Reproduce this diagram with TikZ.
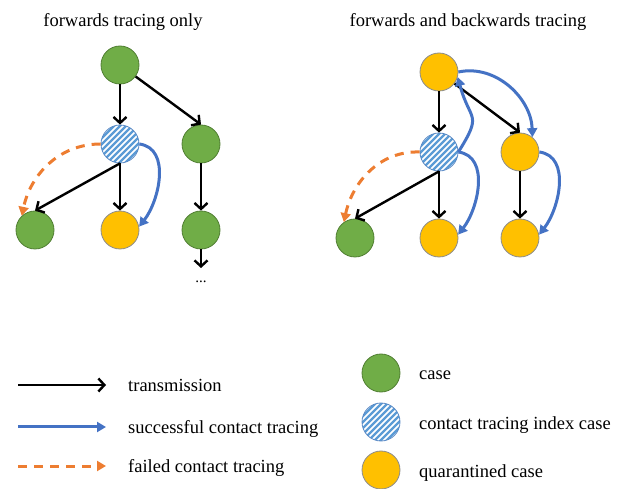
\documentclass[tikz,border=0pt]{standalone}
\usepackage{fontspec}
\setmainfont{Liberation Serif}
\usetikzlibrary{arrows.meta}

\definecolor{casegreen}{HTML}{70AD47}
\definecolor{caseedge}{HTML}{507E32}
\definecolor{quargold}{HTML}{FFC000}
\definecolor{quaredge}{HTML}{8C8C8C}
\definecolor{traceblue}{HTML}{4472C4}
\definecolor{stripeblue}{HTML}{5B9BD5}
\definecolor{indexedge}{HTML}{5A8AC6}
\definecolor{failorange}{HTML}{ED7D31}

\begin{document}
\begin{tikzpicture}[x=1pt,y=1pt,
  font=\fontsize{18.5}{22}\selectfont,
  person/.style={circle, minimum size=38pt, inner sep=0pt, line width=0.8pt},
  case/.style={person, fill=casegreen, draw=caseedge},
  quarantined/.style={person, fill=quargold, draw=quaredge},
  indexcase/.style={person, fill=white, draw=indexedge,
    path picture={
      \foreach \k in {-48,-42,...,48}
        \draw[stripeblue, line width=2.3pt]
          ([xshift=\k pt-30pt, yshift=-30pt]path picture bounding box.center)
          -- ++(60pt,60pt);
    }},
  transmit/.style={black, line width=2.4pt, -{Straight Barb[length=6pt,width=13pt]}},
  traced/.style={traceblue, line width=3pt, -{Triangle[length=9pt,width=10pt]}},
  failed/.style={failorange, line width=3pt, dash pattern=on 9pt off 7pt,
    -{Triangle[length=9pt,width=10pt]}},
  caption/.style={anchor=base west, inner sep=0pt},
]
\useasboundingbox (0,0) rectangle (622,488);

% titles
\node[anchor=base, inner sep=0pt] (t1) at (123,461) {forwards tracing only};
\node[anchor=base, inner sep=0pt] (t2) at (468,461) {forwards and backwards tracing};

% forwards tracing only
\node[case]        (A) at (120,423) {};
\node[indexcase]   (B) at (120,344) {};
\node[case]        (C) at (201,344) {};
\node[case]        (D) at (35,258) {};
\node[quarantined] (E) at (120,258) {};
\node[case]        (F) at (201,258) {};
\coordinate (Fend) at (201,220);
\node[inner sep=0pt, font=\fontsize{15}{18}\selectfont] (dots) at (201,206) {...};

\draw[transmit] (A) -- (B);
\draw[transmit] (A) -- (C.north);
\draw[transmit] (B.south) -- (D.north);
\draw[transmit] (B) -- (E);
\draw[transmit] (C) -- (F);
\draw[transmit] (F) -- (Fend);
\draw[failed] (B.west) to[out=180, in=78] (D.133);
\draw[traced] (B.east) to[out=-8, in=52] (E.10);

% forwards and backwards tracing
\node[quarantined] (A2) at (439,416) {};
\node[indexcase]   (B2) at (439,336) {};
\node[quarantined] (C2) at (520,336) {};
\node[case]        (D2) at (355,250) {};
\node[quarantined] (E2) at (439,250) {};
\node[quarantined] (F2) at (520,250) {};

\draw[transmit] (A2) -- (B2);
\draw[transmit] (A2) -- (C2.north);
\draw[transmit] (B2.south) -- (D2.north);
\draw[transmit] (B2) -- (E2);
\draw[transmit] (C2) -- (F2);
\draw[failed] (B2.west) to[out=178, in=78] (D2.125);
\draw[traced] (B2.east) to[out=-8, in=52] (E2.10);
\draw[traced] (C2.east) to[out=-8, in=52] (F2.10);
\draw[traced] (B2.east) to[out=58, in=-75, looseness=1.6] (A2.-15);
\draw[traced] (A2.east) to[out=12, in=92] (C2.50);

% legend: connectors
\coordinate (l1a) at (18,103);  \coordinate (l1b) at (106,103);
\coordinate (l2a) at (18,61);   \coordinate (l2b) at (106,61);
\coordinate (l3a) at (18,22);   \coordinate (l3b) at (106,22);
\draw[transmit] (l1a) -- (l1b);
\draw[traced]   (l2a) -- (l2b);
\draw[failed]   (l3a) -- (l3b);
\node[caption] (k1) at (128,96) {transmission};
\node[caption] (k2) at (128,55) {successful contact tracing};
\node[caption] (k3) at (128,16) {failed contact tracing};

% legend: cases
\node[case]        (s1) at (381,115) {};
\node[indexcase]   (s2) at (381,66) {};
\node[quarantined] (s3) at (381,18) {};
\node[caption] (c1) at (419,108) {case};
\node[caption] (c2) at (419,58) {contact tracing index case};
\node[caption] (c3) at (419,11) {quarantined case};
\end{tikzpicture}
\end{document}
